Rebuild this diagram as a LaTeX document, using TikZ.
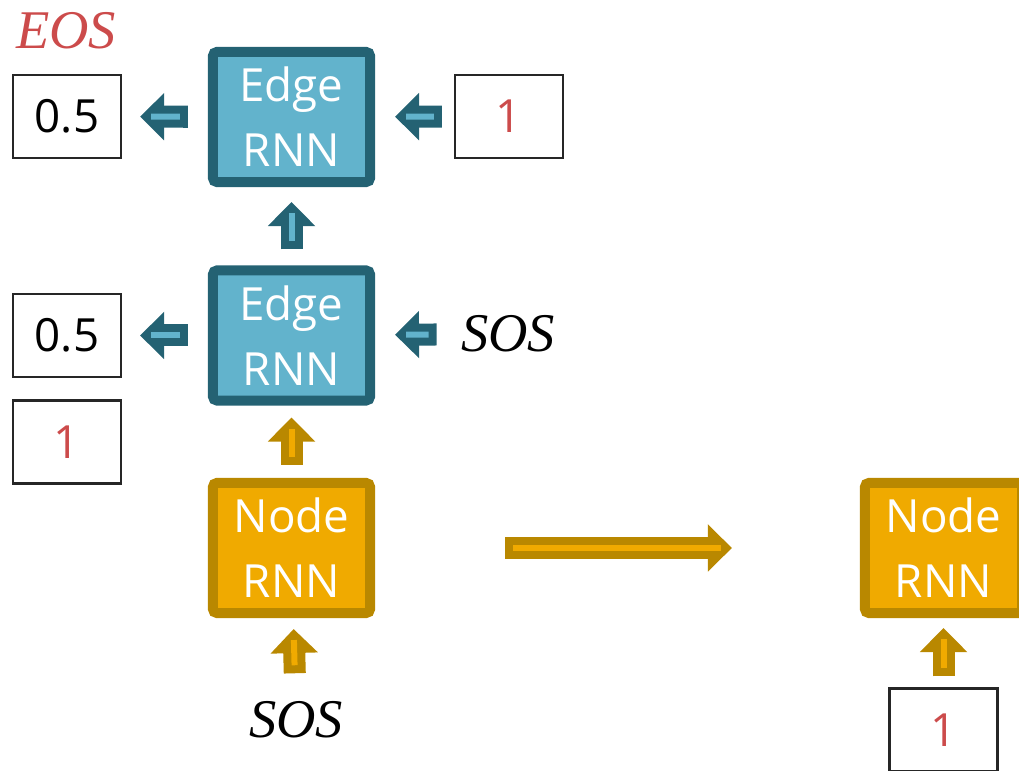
\documentclass[tikz,border=0pt]{standalone}
\usepackage{fontspec}
\setmainfont{Open Sans}
\newfontfamily\symfont{Liberation Serif}
\usetikzlibrary{arrows.meta}
\definecolor{edgelight}{HTML}{62B3CC}
\definecolor{edgedark}{HTML}{246273}
\definecolor{nodelight}{HTML}{F0AA00}
\definecolor{nodedark}{HTML}{B98800}
\definecolor{tokred}{HTML}{CC4B4B}
\tikzset{
rnn/.style={
	  draw=#1dark, fill=#1light, line width=0.1cm, rounded corners=0.04cm,
	    minimum width=1.57cm, minimum height=1.3cm, text=white, align=center,
    font=\fontsize{13}{18.5}\selectfont},
valbox/.style={
	  draw=black!85, line width=0.6pt, minimum width=1.08cm, minimum height=0.83cm,
    font=\fontsize{13}{16}\selectfont},
token/.style={font=\symfont\itshape\fontsize{15.5}{18}\selectfont}
}
% #1 colour, #2 gap at tail, #3 gap at tip, #4 from, #5 to
\newcommand{\flowarrow}[5]{%
	\draw[#1dark, line width=0.22cm, shorten <=#2, shorten >=#3,
		-{Triangle[width=0.46cm,length=0.24cm]}] (#4) -- (#5);
	\draw[#1light, line width=0.06cm, shorten <=#2+0.08cm, shorten >=#3+0.11cm] (#4) -- (#5);}

\begin{document}
\begin{tikzpicture}[x=0.01cm, y=-0.01cm]
	\clip (0,0) rectangle (1019,771);
	% edge level
	\node[rnn=edge] (edgetop) at (291.5,117) {Edge\\RNN};
	\node[rnn=edge] (edgebot) at (291.5,335.5) {Edge\\RNN};
	\node[valbox] (outtop) at (67,116.5) {0.5};
	\node[valbox] (outbot) at (67,335.5) {0.5};
	\node[valbox, text=tokred] (prevtop) at (509,116.5) {1};
	\node[valbox, text=tokred] (nodeval) at (67,442) {1};
	\node[token, text=tokred] (eos) at (66,31) {EOS};
	\node[token] (sosedge) at (508,334) {SOS};
	% node level
	\node[rnn=node] (nodeone) at (291.5,548) {Node\\RNN};
	\node[token] (sosnode) at (296,720) {SOS};
	\node[rnn=node] (nodetwo) at (943.5,548) {Node\\RNN};
	\node[valbox, text=tokred] (nextval) at (943.5,730) {1};

	\flowarrow{edge}{0.2cm}{0.18cm}{edgetop}{outtop}
	\flowarrow{edge}{0.2cm}{0.18cm}{edgebot}{outbot}
	\flowarrow{edge}{0.12cm}{0.2cm}{prevtop}{edgetop}
	\flowarrow{edge}{0.12cm}{0.2cm}{sosedge}{edgebot}
	\flowarrow{edge}{0.16cm}{0.15cm}{edgebot}{edgetop}
	\flowarrow{node}{0.13cm}{0.12cm}{nodeone}{edgebot}
	\flowarrow{node}{0.16cm}{0.11cm}{sosnode}{nodeone}
	\flowarrow{node}{0.11cm}{0.1cm}{nextval}{nodetwo}
	\flowarrow{node}{1.3cm}{1.28cm}{nodeone}{nodetwo}
\end{tikzpicture}
\end{document}
